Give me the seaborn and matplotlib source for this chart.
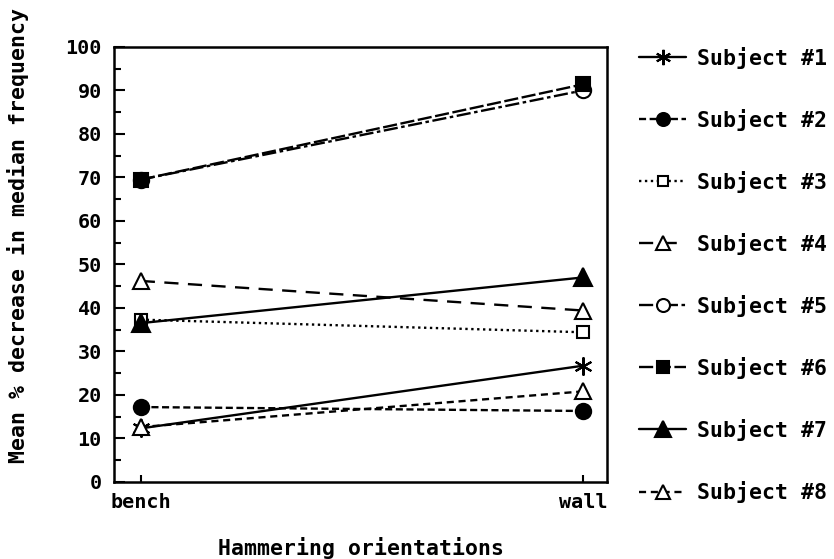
import numpy as np
import pandas as pd
import seaborn as sns
import matplotlib.pyplot as plt
from matplotlib.ticker import MultipleLocator

sns.set_style("ticks")
plt.rcParams["font.family"] = ["DejaVu Sans Mono", "DejaVu Sans"]
plt.rcParams["font.weight"] = "bold"
plt.rcParams["axes.labelweight"] = "bold"
plt.rcParams["text.color"] = "black"
plt.rcParams["axes.labelcolor"] = "black"
plt.rcParams["xtick.color"] = "black"
plt.rcParams["ytick.color"] = "black"

# values
orientations = ["bench", "wall"]
subjects = ["Subject #1", "Subject #2", "Subject #3", "Subject #4",
            "Subject #5", "Subject #6", "Subject #7", "Subject #8"]
bench_vals = [12.3, 17.2, 37.3, 46.2, 69.5, 69.5, 36.5, 12.6]
wall_vals = [26.7, 16.3, 34.4, 39.4, 90.0, 91.4, 47.0, 20.8]

# marker / line style per subject
styles = {
    "Subject #1": dict(marker=(6, 2, 0), linestyle="-", mfc="black", ms=13, mew=1.5),
    "Subject #2": dict(marker="o", linestyle=(0, (3, 1.5)), mfc="black", ms=11),
    "Subject #3": dict(marker="s", linestyle=(0, (1, 1.5)), mfc="white", ms=9),
    "Subject #4": dict(marker="^", linestyle=(0, (6, 4)), mfc="white", ms=12),
    "Subject #5": dict(marker="o", linestyle=(0, (6, 1.5, 1.5, 1.5)), mfc="white", ms=11),
    "Subject #6": dict(marker="s", linestyle=(0, (6, 1.5)), mfc="black", ms=10),
    "Subject #7": dict(marker="^", linestyle="-", mfc="black", ms=13),
    "Subject #8": dict(marker="^", linestyle=(0, (3, 2)), mfc="white", ms=12),
}

df = pd.DataFrame({
    "subject": np.repeat(subjects, 2),
    "orientation": orientations * len(subjects),
    "value": [v for pair in zip(bench_vals, wall_vals) for v in pair],
})
df["pos"] = df["orientation"].map({o: i for i, o in enumerate(orientations)})

fig = plt.figure(figsize=(8.34, 5.59), dpi=100)
ax = fig.add_axes([0.137, 0.138, 0.591, 0.778])

for s in subjects:
    st = styles[s]
    sub = df[df["subject"] == s]
    sns.lineplot(data=sub, x="pos", y="value", ax=ax, color="black",
                 linewidth=1.7, marker=st["marker"], linestyle=st["linestyle"],
                 markerfacecolor=st["mfc"], markeredgecolor="black",
                 markersize=st["ms"], markeredgewidth=st.get("mew", 1.5),
                 label=s, legend=False)

ax.set_xlim(-0.06, 1.055)
ax.set_ylim(0, 100)
ax.set_xticks(range(len(orientations)))
ax.set_xticklabels(orientations)
ax.yaxis.set_major_locator(MultipleLocator(10))
ax.yaxis.set_minor_locator(MultipleLocator(5))
ax.tick_params(axis="both", which="major", direction="in", length=8, width=1.5,
               labelsize=14.5)
ax.tick_params(axis="y", which="major", pad=9)
ax.tick_params(axis="y", which="minor", direction="in", length=5, width=1.5)
ax.tick_params(axis="x", which="major", length=5, pad=8)
for sp in ax.spines.values():
    sp.set_visible(True)
    sp.set_linewidth(1.8)
    sp.set_color("black")

ax.set_xlabel("Hammering orientations", fontsize=15.5)
ax.set_ylabel("Mean % decrease in median frequency", fontsize=15.5)
ax.xaxis.set_label_coords(0.5, -0.127)
ax.yaxis.set_label_coords(-0.172, 0.566)

handles, labels = ax.get_legend_handles_labels()
ax.legend(handles, labels, loc="upper left", bbox_to_anchor=(1.025, 1.045),
          frameon=False, fontsize=15.5, labelspacing=1.86, handlelength=2.2,
          handletextpad=0.5, markerscale=0.85)

fig.savefig("out.png", dpi=100)
